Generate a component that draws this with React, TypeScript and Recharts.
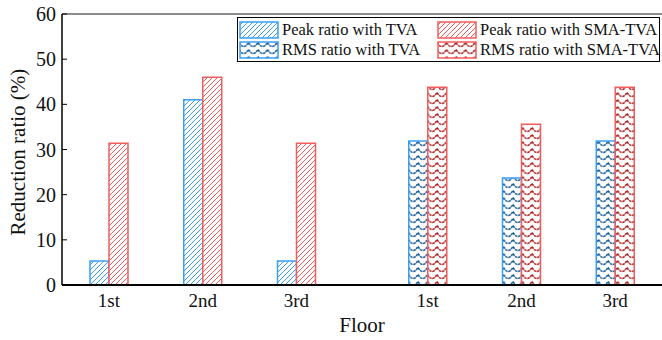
import React from 'react';
import { BarChart, Bar, XAxis, YAxis, ReferenceLine, Legend } from 'recharts';

// Data
const floorLabels = ['1st', '2nd', '3rd', '1st', '2nd', '3rd'];
const floorPositions = [1, 2, 3, 4.4, 5.4, 6.4];
const peakTva = [5.3, 41.0, 5.3, null, null, null];
const peakSmaTva = [31.4, 46.0, 31.4, null, null, null];
const rmsTva = [null, null, null, 31.9, 23.7, 31.9];
const rmsSmaTva = [null, null, null, 43.8, 35.6, 43.8];
const yTicks = [0, 10, 20, 30, 40, 50, 60];

const data = floorPositions.map((pos, i) => ({
  pos,
  peakTva: peakTva[i],
  peakSmaTva: peakSmaTva[i],
  rmsTva: rmsTva[i],
  rmsSmaTva: rmsSmaTva[i],
}));

const BLUE = '#3a9ef5';
const RED = '#f25c5c';
const FONT = '"Liberation Serif", "Times New Roman", serif';

const legendItems = [
  { label: 'Peak ratio with TVA', fill: 'url(#hatchBlue)', stroke: BLUE },
  { label: 'Peak ratio with SMA-TVA', fill: 'url(#hatchRed)', stroke: RED },
  { label: 'RMS ratio with TVA', fill: 'url(#waveBlue)', stroke: BLUE },
  { label: 'RMS ratio with SMA-TVA', fill: 'url(#waveRed)', stroke: RED },
];

const Patterns = () => (
  <defs>
    <pattern id="hatchBlue" patternUnits="userSpaceOnUse" width="5" height="5">
      <rect width="5" height="5" fill="#fff" />
      <path d="M0,5 L5,0 M-1,1 L1,-1 M4,6 L6,4" stroke={BLUE} strokeWidth="1" />
    </pattern>
    <pattern id="hatchRed" patternUnits="userSpaceOnUse" width="5" height="5">
      <rect width="5" height="5" fill="#fff" />
      <path d="M0,5 L5,0 M-1,1 L1,-1 M4,6 L6,4" stroke={RED} strokeWidth="1" />
    </pattern>
    <pattern id="waveBlue" patternUnits="userSpaceOnUse" width="9.5" height="7">
      <rect width="9.5" height="7" fill="#fff" />
      <path d="M0,1.5 Q2.4,5.5 4.75,5.5 Q7.1,5.5 9.5,1.5" stroke="#175a98" strokeWidth="1.5" fill="none" strokeDasharray="2.5 0.8" />
    </pattern>
    <pattern id="waveRed" patternUnits="userSpaceOnUse" width="9.5" height="7">
      <rect width="9.5" height="7" fill="#fff" />
      <path d="M0,1.5 Q2.4,5.5 4.75,5.5 Q7.1,5.5 9.5,1.5" stroke="#b02222" strokeWidth="1.5" fill="none" strokeDasharray="2.5 0.8" />
    </pattern>
  </defs>
);

const YTick = ({ x, y, payload }: any) => (
  <g>
    <line x1={x + 6} x2={x + 11} y1={y} y2={y} stroke="#000" strokeWidth={1} />
    <text x={x} y={y} dy={7} textAnchor="end" fontSize={20} fontFamily={FONT} fill="#111">
      {payload.value}
    </text>
  </g>
);

const XTick = ({ x, y, payload }: any) => {
  const idx = floorPositions.indexOf(payload.value);
  return (
    <text x={x} y={y} dy={14} textAnchor="middle" fontSize={19} fontFamily={FONT} fill="#111">
      {floorLabels[idx]}
    </text>
  );
};

const LegendBox = () => (
  <div
    style={{
      position: 'absolute',
      left: 237,
      top: 17,
      width: 423,
      height: 45,
      border: '1px solid #000',
      background: '#fff',
      fontFamily: FONT,
      fontSize: 16.5,
      color: '#111',
      boxSizing: 'border-box',
    }}
  >
    {legendItems.map((item, i) => {
      const col = i % 2;
      const row = Math.floor(i / 2);
      return (
        <div
          key={i}
          style={{
            position: 'absolute',
            left: col === 0 ? 1 : 199,
            top: row === 0 ? 2 : 22,
            display: 'flex',
            alignItems: 'center',
            whiteSpace: 'nowrap',
            lineHeight: '19px',
          }}
        >
          <svg width={40} height={18} style={{ marginRight: 3 }}>
            <rect x={1} y={1} width={38} height={16} fill={item.fill} stroke={item.stroke} strokeWidth={1.5} />
          </svg>
          <span>{item.label}</span>
        </div>
      );
    })}
  </div>
);

export default function App() {
  return (
    <div style={{ position: 'absolute', left: 0, top: 0, width: 662, height: 340, background: '#fff' }}>
      <BarChart
        width={662}
        height={340}
        data={data}
        margin={{ top: 14, right: 0, bottom: 25, left: 0 }}
        barGap={0}
        barSize={19}
      >
        <Patterns />
        <XAxis
          dataKey="pos"
          type="number"
          domain={[0.5, 6.9]}
          ticks={floorPositions}
          tick={<XTick />}
          tickLine={false}
          height={30}
          axisLine={{ stroke: '#000', strokeWidth: 2 }}
          allowDataOverflow
        />
        <YAxis
          domain={[0, 60]}
          ticks={yTicks}
          width={62}
          tickSize={0}
          tickMargin={6}
          tickLine={false}
          tick={<YTick />}
          axisLine={{ stroke: '#000', strokeWidth: 1.5 }}
          label={{
            value: 'Reduction ratio (%)',
            angle: -90,
            position: 'insideLeft',
            dx: 13,
            dy: 86,
            style: { fontFamily: FONT, fontSize: 21, fill: '#111' },
          }}
        />
        <ReferenceLine y={60} stroke="#666" strokeWidth={1.5} ifOverflow="extendDomain" />
        <Bar dataKey="peakTva" stackId="tva" fill="url(#hatchBlue)" stroke={BLUE} strokeWidth={1.5} isAnimationActive={false} />
        <Bar dataKey="peakSmaTva" stackId="sma" fill="url(#hatchRed)" stroke={RED} strokeWidth={1.5} isAnimationActive={false} />
        <Bar dataKey="rmsTva" stackId="tva" fill="url(#waveBlue)" stroke={BLUE} strokeWidth={1.5} isAnimationActive={false} />
        <Bar dataKey="rmsSmaTva" stackId="sma" fill="url(#waveRed)" stroke={RED} strokeWidth={1.5} isAnimationActive={false} />
        <Legend content={() => null} />
      </BarChart>
      <LegendBox />
      <div
        style={{
          position: 'absolute',
          left: 62,
          width: 600,
          top: 313,
          textAlign: 'center',
          fontFamily: FONT,
          fontSize: 21,
          color: '#111',
        }}
      >
        Floor
      </div>
    </div>
  );
}
